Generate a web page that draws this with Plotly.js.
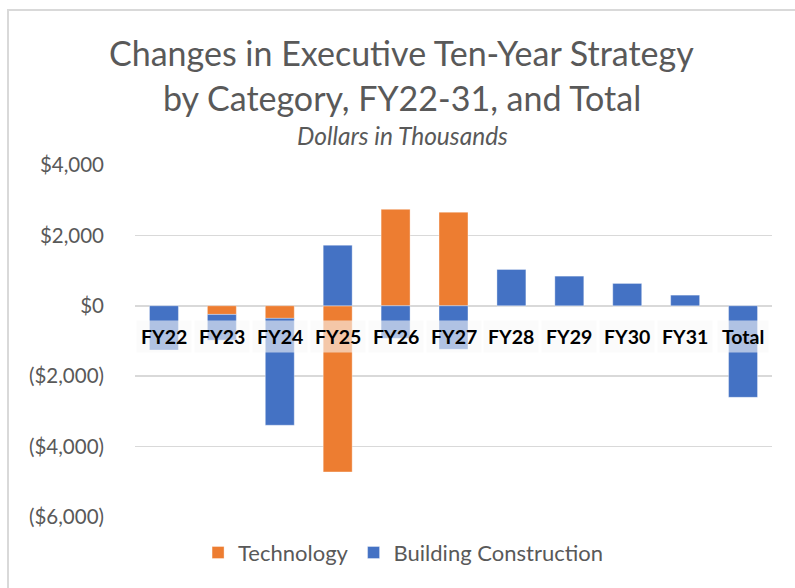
<!DOCTYPE html>
<html>
<head>
<meta charset="utf-8">
<script src="https://cdn.plot.ly/plotly-3.0.1.min.js"></script>
<style>
  html, body { margin: 0; padding: 0; background: #fff; overflow: hidden; }
  #frame { position: absolute; left: 7px; top: 9px; width: 900px; height: 700px; border: 2px solid #D9D9D9; }
  #chart { position: absolute; left: 0; top: 0; width: 795px; height: 588px; }
</style>
</head>
<body>
<div id="frame"></div>
<div id="chart"></div>
<script>
const categories = ["FY22", "FY23", "FY24", "FY25", "FY26", "FY27", "FY28", "FY29", "FY30", "FY31", "Total"];
const technology = [0, -245, -357, -4720, 2740, 2660, 0, 0, 0, 0, 0];
const building = [-1257, -730, -3036, 1722, -925, -1237, 1033, 843, 635, 303, -2600];
const tickValues = [4000, 2000, 0, -2000, -4000, -6000];
const tickLabels = ["$4,000", "$2,000", "$0", "($2,000)", "($4,000)", "($6,000)"];

const FONT = "Lato, 'Open Sans', sans-serif";
const PLOT_TOP = 165, PLOT_BOTTOM = 517, PLOT_LEFT = 134.5, PLOT_RIGHT = 772.5;
const py = p => (PLOT_BOTTOM - p) / (PLOT_BOTTOM - PLOT_TOP);
const px = p => (p - PLOT_LEFT) / (PLOT_RIGHT - PLOT_LEFT);

const traces = [
  { type: "bar", name: "Technology", x: categories, y: technology,
    marker: { color: "#ED7D31", line: { width: 0.8, color: "rgba(255,255,255,0.45)" } } },
  { type: "bar", name: "Building Construction", x: categories, y: building,
    marker: { color: "#4472C4", line: { width: 0.8, color: "rgba(255,255,255,0.45)" } } }
];

const catAnnotations = categories.map(c => ({
  x: c, y: 0, xref: "x", yref: "y", yshift: -31, showarrow: false,
  text: "<b>" + c + "</b>", font: { family: FONT, size: 19.5, color: "#000" },
  bgcolor: "rgba(248,248,248,0.6)", borderpad: 4
}));

const layout = {
  width: 795, height: 588,
  paper_bgcolor: "rgba(0,0,0,0)", plot_bgcolor: "rgba(0,0,0,0)",
  margin: { l: PLOT_LEFT, r: 795 - PLOT_RIGHT, t: PLOT_TOP, b: 588 - PLOT_BOTTOM },
  barmode: "relative", bargap: 0.5,
  font: { family: FONT, color: "#595959" },
  showlegend: true,
  legend: { orientation: "h", xref: "container", yref: "container", x: 0.507, xanchor: "center",
            y: 0.06, yanchor: "middle", font: { size: 22, color: "#595959", family: FONT },
            tracegroupgap: 0 },
  xaxis: { type: "category", showticklabels: false, showgrid: false, zeroline: false, showline: false, fixedrange: true },
  yaxis: { range: [-6000, 4000], tickvals: tickValues, ticktext: tickLabels,
           tickfont: { size: 20.5, color: "#595959", family: FONT },
           showgrid: true, gridcolor: "#D9D9D9", gridwidth: 1.5,
           zeroline: true, zerolinecolor: "#D9D9D9", zerolinewidth: 1.5,
           ticklabelstandoff: 30, showline: false },
  annotations: [
    { text: "Changes in Executive Ten-Year Strategy", xref: "paper", yref: "paper",
      x: px(401.5), y: py(52), xanchor: "center", yanchor: "middle", showarrow: false,
      font: { family: FONT, size: 34, color: "#595959" } },
    { text: "by Category, FY22-31, and Total", xref: "paper", yref: "paper",
      x: px(401.5), y: py(97), xanchor: "center", yanchor: "middle", showarrow: false,
      font: { family: FONT, size: 34, color: "#595959" } },
    { text: "<i>Dollars in Thousands</i>", xref: "paper", yref: "paper",
      x: px(402), y: py(135), xanchor: "center", yanchor: "middle", showarrow: false,
      font: { family: FONT, size: 24.5, color: "#595959" } }
  ].concat(catAnnotations)
};

Plotly.newPlot("chart", traces, layout, { displayModeBar: false, staticPlot: true });
</script>
</body>
</html>
